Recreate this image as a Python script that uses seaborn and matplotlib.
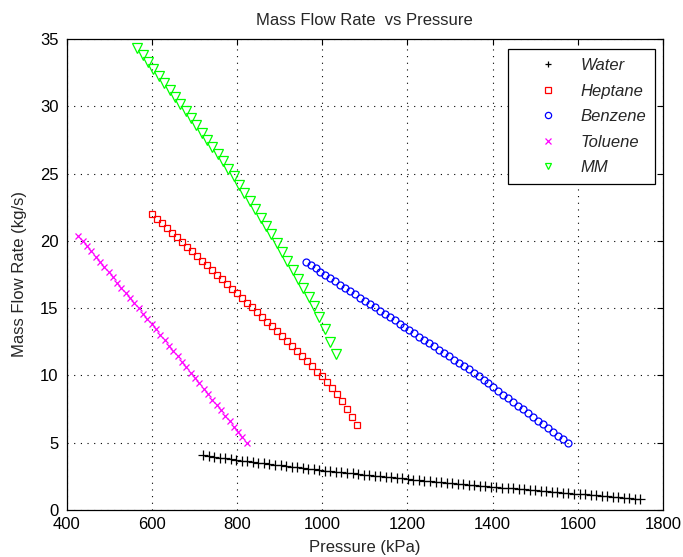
import matplotlib
matplotlib.use("Agg")
import matplotlib.pyplot as plt
import seaborn as sns
import pandas as pd

# ---------------- data ----------------
water_p = [720, 733, 746, 759, 772, 785, 798, 811, 824, 837, 850, 863, 876, 889, 902, 915,
           928, 941, 954, 967, 980, 993, 1006, 1019, 1032, 1045, 1058, 1071, 1084, 1097, 1110,
           1123, 1136, 1149, 1162, 1175, 1188, 1201, 1214, 1227, 1240, 1253, 1266, 1279, 1292,
           1305, 1318, 1331, 1344, 1357, 1370, 1383, 1396, 1409, 1422, 1435, 1448, 1461, 1474,
           1487, 1500, 1513, 1526, 1539, 1552, 1565, 1578, 1591, 1604, 1617, 1630, 1643, 1656,
           1669, 1682, 1695, 1708, 1721, 1734, 1747]
water_m = [4.09, 4.03, 3.97, 3.90, 3.84, 3.78, 3.71, 3.66, 3.61, 3.56, 3.51, 3.46, 3.42, 3.37,
           3.32, 3.27, 3.22, 3.17, 3.12, 3.07, 3.03, 2.98, 2.93, 2.89, 2.85, 2.80, 2.76, 2.72,
           2.68, 2.63, 2.59, 2.55, 2.51, 2.47, 2.42, 2.38, 2.34, 2.30, 2.26, 2.22, 2.19, 2.15,
           2.11, 2.07, 2.04, 2.00, 1.96, 1.92, 1.89, 1.85, 1.81, 1.78, 1.74, 1.71, 1.67, 1.64,
           1.60, 1.57, 1.53, 1.50, 1.46, 1.43, 1.40, 1.36, 1.33, 1.29, 1.26, 1.22, 1.19, 1.16,
           1.12, 1.09, 1.05, 1.02, 0.99, 0.95, 0.92, 0.89, 0.85, 0.82]

heptane_p = [600.0, 611.8, 623.5, 635.3, 647.0, 658.8, 670.5, 682.3, 694.0, 705.8, 717.5,
             729.3, 741.0, 752.8, 764.5, 776.3, 788.0, 799.8, 811.5, 823.3, 835.0, 846.8,
             858.5, 870.3, 882.0, 893.8, 905.5, 917.3, 929.0, 940.8, 952.5, 964.3, 976.0,
             987.8, 999.5, 1011.3, 1023.0, 1034.8, 1046.5, 1058.3, 1070.0, 1081.8]
heptane_m = [22.00, 21.65, 21.31, 20.96, 20.61, 20.27, 19.92, 19.57, 19.23, 18.88, 18.53,
             18.19, 17.84, 17.49, 17.15, 16.80, 16.45, 16.11, 15.76, 15.40, 15.05, 14.70,
             14.35, 13.99, 13.64, 13.29, 12.92, 12.55, 12.17, 11.80, 11.42, 11.04, 10.67,
             10.29, 9.92, 9.48, 9.04, 8.60, 8.08, 7.49, 6.90, 6.31]

benzene_p = [961.0, 972.6, 984.2, 995.8, 1007.4, 1019.0, 1030.6, 1042.2, 1053.8, 1065.4,
             1077.0, 1088.6, 1100.2, 1111.8, 1123.4, 1135.0, 1146.6, 1158.2, 1169.8, 1181.4,
             1193.0, 1204.6, 1216.2, 1227.8, 1239.4, 1251.0, 1262.6, 1274.2, 1285.8, 1297.4,
             1309.0, 1320.6, 1332.2, 1343.8, 1355.4, 1367.0, 1378.6, 1390.2, 1401.8, 1413.4,
             1425.0, 1436.6, 1448.2, 1459.8, 1471.4, 1483.0, 1494.6, 1506.2, 1517.8, 1529.4,
             1541.0, 1552.6, 1564.2, 1575.8]
benzene_m = [18.45, 18.21, 17.97, 17.72, 17.48, 17.24, 16.99, 16.75, 16.51, 16.27, 16.03,
             15.78, 15.54, 15.30, 15.06, 14.81, 14.57, 14.33, 14.09, 13.84, 13.60, 13.36,
             13.12, 12.87, 12.63, 12.39, 12.15, 11.90, 11.66, 11.42, 11.18, 10.93, 10.69,
             10.45, 10.21, 9.96, 9.68, 9.41, 9.13, 8.85, 8.58, 8.30, 8.02, 7.74, 7.47, 7.19,
             6.91, 6.64, 6.36, 6.08, 5.81, 5.53, 5.25, 4.97]

toluene_p = [427.0, 437.2, 447.3, 457.5, 467.6, 477.8, 487.9, 498.1, 508.2, 518.4, 528.5,
             538.7, 548.8, 559.0, 569.1, 579.3, 589.4, 599.6, 609.7, 619.9, 630.0, 640.2,
             650.3, 660.5, 670.6, 680.8, 690.9, 701.1, 711.2, 721.4, 731.5, 741.7, 751.8,
             762.0, 772.1, 782.3, 792.4, 802.6, 812.7, 822.9]
toluene_m = [20.36, 19.98, 19.59, 19.21, 18.82, 18.44, 18.05, 17.67, 17.28, 16.90, 16.52,
             16.13, 15.75, 15.36, 14.98, 14.59, 14.21, 13.82, 13.42, 13.02, 12.61, 12.21,
             11.81, 11.41, 11.01, 10.61, 10.21, 9.81, 9.41, 9.01, 8.61, 8.21, 7.81, 7.40,
             7.00, 6.60, 6.20, 5.80, 5.40, 5.00]

mm_p = [566.0, 578.6, 591.1, 603.7, 616.3, 628.9, 641.4, 654.0, 666.6, 679.1, 691.7, 704.3,
        716.8, 729.4, 742.0, 754.6, 767.1, 779.7, 792.3, 804.8, 817.4, 830.0, 842.5, 855.1,
        867.7, 880.3, 892.8, 905.4, 918.0, 930.5, 943.1, 955.7, 968.2, 980.8, 993.4, 1005.9,
        1018.5, 1031.1]
mm_m = [34.30, 33.78, 33.27, 32.75, 32.24, 31.72, 31.21, 30.69, 30.18, 29.65, 29.12, 28.58,
        28.04, 27.51, 26.97, 26.43, 25.90, 25.35, 24.79, 24.18, 23.56, 22.94, 22.33, 21.71,
        21.10, 20.48, 19.85, 19.18, 18.52, 17.85, 17.19, 16.52, 15.86, 15.19, 14.32, 13.42,
        12.52, 11.60]

fluids = ["Water", "Heptane", "Benzene", "Toluene", "MM"]
x_ticks = [400, 600, 800, 1000, 1200, 1400, 1600, 1800]
y_ticks = [0, 5, 10, 15, 20, 25, 30, 35]

# ---------------- style ----------------
sns.set_style("white")
plt.rcParams["font.family"] = ["Liberation Sans", "DejaVu Sans"]

series = {
    "Water": (water_p, water_m),
    "Heptane": (heptane_p, heptane_m),
    "Benzene": (benzene_p, benzene_m),
    "Toluene": (toluene_p, toluene_m),
    "MM": (mm_p, mm_m),
}
styles = {
    "Water": dict(color="black", marker="+", ms=6.5),
    "Heptane": dict(color="#ff0000", marker="s", ms=4.8),
    "Benzene": dict(color="#0000ff", marker="o", ms=5.0),
    "Toluene": dict(color="#ff00ff", marker="x", ms=5.0),
    "MM": dict(color="#00ff00", marker="v", ms=6.5),
}

fig = plt.figure(figsize=(6.83, 5.57), dpi=100)
ax = fig.add_axes([0.0977, 0.0844, 0.873, 0.8456])

for name in fluids:
    px, py = series[name]
    df = pd.DataFrame({"Pressure": px, "Flow": py})
    st = styles[name]
    sns.lineplot(data=df, x="Pressure", y="Flow", ax=ax, label=name,
                 color=st["color"], marker=st["marker"], linestyle="None",
                 markersize=st["ms"], markeredgecolor=st["color"],
                 markerfacecolor="none", markeredgewidth=0.9,
                 estimator=None, sort=False)

ax.set_xlim(400, 1800)
ax.set_ylim(0, 35)
ax.set_xticks(x_ticks)
ax.set_yticks(y_ticks)
ax.set_xticklabels([str(t) for t in x_ticks])
ax.set_yticklabels([str(t) for t in y_ticks])

ax.grid(True, color="black", linestyle=(0, (1, 5)), linewidth=0.8)
for sp in ax.spines.values():
    sp.set_color("black")
    sp.set_linewidth(0.9)
ax.tick_params(direction="in", length=4, width=0.8, top=True, right=True,
               labelsize=12, colors="black")
ax.tick_params(axis="x", pad=5)
ax.tick_params(axis="y", pad=6)

ax.set_title("Mass Flow Rate  vs Pressure", fontsize=12, pad=10)
ax.set_xlabel("Pressure (kPa)", fontsize=12, labelpad=6)
ax.set_ylabel("Mass Flow Rate (kg/s)", fontsize=12, labelpad=9)

leg = ax.legend(loc="upper right", bbox_to_anchor=(0.9866, 0.9788), borderaxespad=0,
                fancybox=False, framealpha=1, edgecolor="black",
                prop={"style": "italic", "size": 12, "family": ["Liberation Sans", "DejaVu Sans"]},
                handlelength=3.8, handletextpad=0.0, borderpad=0.55, labelspacing=0.63)
leg.get_frame().set_linewidth(0.9)
for h in leg.legend_handles:
    h.set_markersize(4.5)

fig.savefig("out.png", dpi=100)
